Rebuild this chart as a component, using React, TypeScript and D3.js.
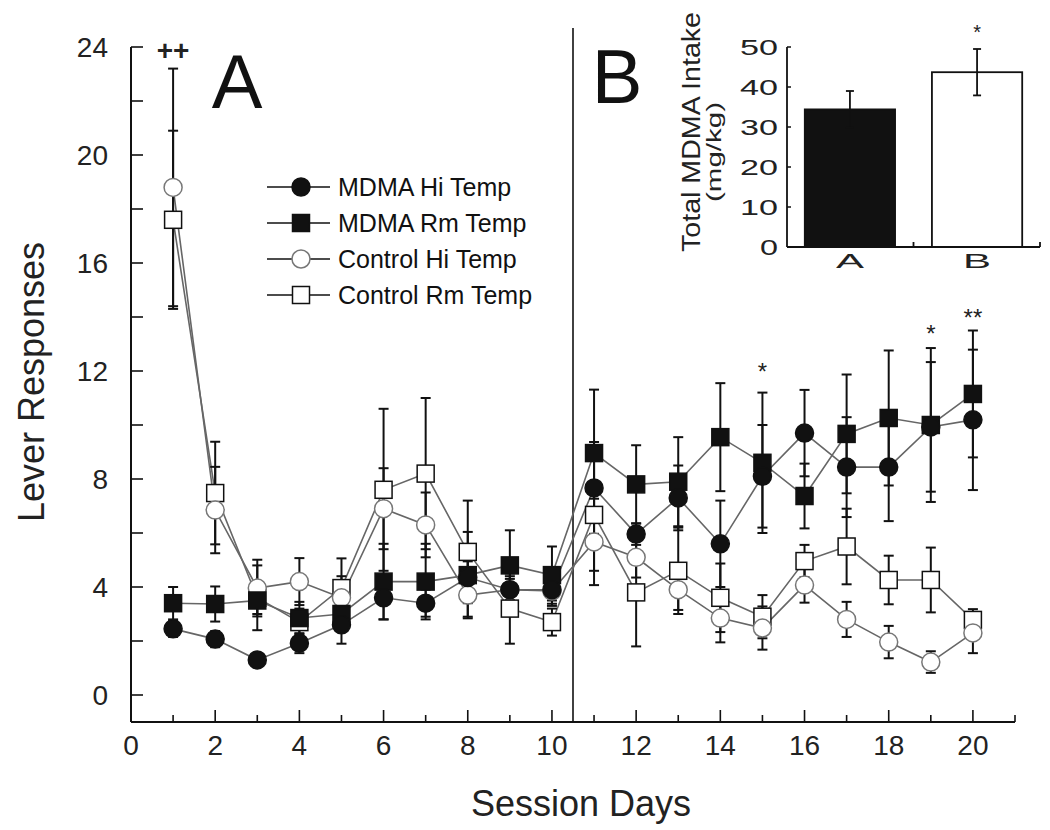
import React from 'react';
import * as d3 from 'd3';

// session days 1..20
const days = [1, 2, 3, 4, 5, 6, 7, 8, 9, 10, 11, 12, 13, 14, 15, 16, 17, 18, 19, 20];

const mdmaHi = [2.45, 2.07, 1.3, 1.92, 2.6, 3.6, 3.4, 4.35, 3.9, 3.9, 7.67, 5.96, 7.3, 5.6, 8.1, 9.7, 8.44, 8.44, 9.93, 10.19];
const mdmaHiErr = [0.3, 0.3, 0.25, 0.37, 0.7, 0.8, 0.5, 0.6, 0.4, 0.4, 1.7, 0.4, 1.2, 1.6, 1.9, 1.6, 1.85, 2.0, 2.4, 2.6];

const mdmaRm = [3.4, 3.37, 3.5, 2.85, 3.0, 4.2, 4.2, 4.44, 4.8, 4.44, 8.96, 7.8, 7.9, 9.55, 8.6, 7.37, 9.67, 10.26, 10.0, 11.15];
const mdmaRmErr = [0.6, 0.65, 0.5, 0.6, 0.6, 1.4, 1.4, 1.6, 1.3, 1.06, 2.35, 1.45, 1.65, 2.0, 2.6, 1.2, 2.2, 2.5, 2.85, 2.35];

const controlHi = [18.8, 6.85, 3.96, 4.2, 3.6, 6.9, 6.3, 3.7, 3.9, 3.85, 5.67, 5.1, 3.9, 2.85, 2.48, 4.07, 2.8, 1.96, 1.22, 2.3];
const controlHiErr = [4.4, 1.6, 1.05, 0.87, 0.8, 1.5, 1.2, 0.8, 0.5, 0.55, 1.6, 0.75, 0.75, 0.9, 0.8, 0.65, 0.65, 0.6, 0.4, 0.75];

const controlRm = [17.6, 7.48, 3.6, 2.7, 3.96, 7.6, 8.2, 5.3, 3.2, 2.7, 6.67, 3.8, 4.6, 3.6, 2.9, 4.96, 5.5, 4.26, 4.26, 2.78];
const controlRmErr = [3.3, 1.9, 1.2, 0.5, 1.1, 3.0, 2.8, 1.9, 1.3, 0.5, 2.07, 2.0, 1.6, 1.27, 0.8, 0.6, 1.4, 0.9, 1.2, 0.4];

const yTicks = [0, 4, 8, 12, 16, 20, 24];
const xTicks = [0, 2, 4, 6, 8, 10, 12, 14, 16, 18, 20];

// significance marks (day, label, height in response units)
const sigDays = [1, 15, 19, 20];
const sigLabels = ['++', '*', '*', '**'];
const sigLevels = [24, 12.3, 13.7, 14.3];

// inset: total intake
const groups = ['A', 'B'];
const intake = [34.4, 43.7];
const intakeErr = [4.6, 5.8];
const intakeTicks = [0, 10, 20, 30, 40, 50];

const FONT = 'Liberation Sans, Arial, sans-serif';

const series = [
  { name: 'MDMA Hi Temp', values: mdmaHi, err: mdmaHiErr, shape: 'circle', filled: true },
  { name: 'MDMA Rm Temp', values: mdmaRm, err: mdmaRmErr, shape: 'square', filled: true },
  { name: 'Control Hi Temp', values: controlHi, err: controlHiErr, shape: 'circle', filled: false },
  { name: 'Control Rm Temp', values: controlRm, err: controlRmErr, shape: 'square', filled: false },
];
// drawing order for markers: open first, filled on top
const drawOrder = [3, 2, 1, 0];

const Marker = ({ cx, cy, shape, filled }) => {
  if (shape === 'circle') {
    return (
      <circle cx={cx} cy={cy} r={9}
        fill={filled ? '#111' : '#fff'}
        stroke={filled ? '#111' : '#777'} strokeWidth={1.5} />
    );
  }
  return (
    <rect x={cx - 8.5} y={cy - 8.5} width={17} height={17}
      fill={filled ? '#111' : '#fff'} stroke="#111" strokeWidth={1.5} />
  );
};

const App = () => {
  const x = d3.scaleLinear().domain([0, 21]).range([131, 1015]);
  const y = d3.scaleLinear().domain([-1, 24]).range([722, 47]);

  const line = d3.line<number>()
    .x((d, i) => x(days[i]))
    .y(d => y(d));

  const xi = d3.scaleBand().domain(groups).range([787, 1040]).paddingInner(0.29).paddingOuter(0.14);
  const yi = d3.scaleLinear().domain([0, 50]).range([247, 47]);

  const minorX = d3.range(1, 22);
  const yTickAll = d3.range(0, 25, 2);

  return (
    <svg width={1050} height={830} style={{ position: 'absolute', left: 0, top: 0, background: '#fff' }}
      fontFamily={FONT}>
      {/* main axes */}
      <line x1={x(0)} x2={x(0)} y1={y(24)} y2={y(-1)} stroke="#111" strokeWidth={2} />
      <line x1={x(0)} x2={x(21)} y1={y(-1)} y2={y(-1)} stroke="#111" strokeWidth={2} />
      {yTickAll.map(t => (
        <line key={'yt' + t} x1={x(0)} x2={x(0) + 12} y1={y(t)} y2={y(t)} stroke="#111" strokeWidth={1.6} />
      ))}
      {yTicks.map(t => (
        <text key={'yl' + t} x={108} y={y(t)} dy="0.36em" textAnchor="end" fontSize={28} fill="#222">{t}</text>
      ))}
      {minorX.map(t => (
        <line key={'xt' + t} x1={x(t)} x2={x(t)} y1={y(-1)} y2={y(-1) - (t % 2 === 0 ? 12 : 7)}
          stroke="#111" strokeWidth={1.6} />
      ))}
      {xTicks.map(t => (
        <text key={'xl' + t} x={x(t)} y={755} textAnchor="middle" fontSize={28} fill="#222">{t}</text>
      ))}
      <text x={x(10.5) + 8} y={816} textAnchor="middle" fontSize={36} fill="#222">Session Days</text>
      <text transform={`translate(44,382) rotate(-90)`} textAnchor="middle" fontSize={36} fill="#222">Lever Responses</text>

      {/* phase divider */}
      <line x1={x(10.5)} x2={x(10.5)} y1={28} y2={y(-1)} stroke="#111" strokeWidth={1.6} />
      <text x={237} y={108} textAnchor="middle" fontSize={76} fill="#111">A</text>
      <text x={617} y={103} textAnchor="middle" fontSize={76} fill="#111">B</text>

      {/* connecting lines */}
      {series.map(s => (
        <path key={'ln' + s.name} d={line(s.values) || ''} fill="none" stroke="#666" strokeWidth={1.6} />
      ))}

      {/* error bars */}
      {series.map(s => s.values.map((v, i) => {
        const cx = x(days[i]);
        const top = y(v + s.err[i]);
        const bot = y(v - s.err[i]);
        return (
          <g key={'eb' + s.name + i} stroke="#111" strokeWidth={2}>
            <line x1={cx} x2={cx} y1={top} y2={bot} />
            <line x1={cx - 5} x2={cx + 5} y1={top} y2={top} />
            <line x1={cx - 5} x2={cx + 5} y1={bot} y2={bot} />
          </g>
        );
      }))}

      {/* markers */}
      {drawOrder.map(k => {
        const s = series[k];
        return s.values.map((v, i) => (
          <Marker key={'mk' + s.name + i} cx={x(days[i])} cy={y(v)} shape={s.shape} filled={s.filled} />
        ));
      })}

      {/* significance */}
      {sigDays.map((d, i) => (
        <text key={'sg' + i} x={x(d)} y={y(sigLevels[i])} dy={i === 0 ? '0.45em' : '0.7em'} textAnchor="middle"
          fontSize={i === 0 ? 28 : 24} fontWeight={i === 0 ? 'bold' : 'normal'} fill="#222">{sigLabels[i]}</text>
      ))}

      {/* legend */}
      {series.map((s, i) => {
        const cy = 187 + i * 36;
        return (
          <g key={'lg' + s.name}>
            <line x1={267} x2={330} y1={cy} y2={cy} stroke="#111" strokeWidth={1.6} />
            <Marker cx={301} cy={cy} shape={s.shape} filled={s.filled} />
            <text x={338} y={cy + 9} fontSize={25} fill="#111">{s.name}</text>
          </g>
        );
      })}

      {/* inset bar chart */}
      {groups.map((g, i) => (
        <rect key={'bar' + g} x={xi(g)} y={yi(intake[i])} width={xi.bandwidth()} height={yi(0) - yi(intake[i])}
          fill={i === 0 ? '#111' : '#fff'} stroke="#111" strokeWidth={1.8} />
      ))}
      {groups.map((g, i) => {
        const cx = (xi(g) || 0) + xi.bandwidth() / 2;
        const top = yi(intake[i] + intakeErr[i]);
        const bot = yi(intake[i] - intakeErr[i]);
        return (
          <g key={'ieb' + g} stroke="#111" strokeWidth={1.8}>
            <line x1={cx} x2={cx} y1={top} y2={bot} />
            <line x1={cx - 4} x2={cx + 4} y1={top} y2={top} />
            <line x1={cx - 4} x2={cx + 4} y1={bot} y2={bot} />
          </g>
        );
      })}
      <line x1={787} x2={787} y1={yi(50)} y2={yi(0)} stroke="#111" strokeWidth={1.8} />
      <line x1={787} x2={1040} y1={yi(0)} y2={yi(0)} stroke="#111" strokeWidth={1.8} />
      <line x1={1040} x2={1040} y1={yi(0)} y2={yi(0) - 5} stroke="#111" strokeWidth={1.8} />
      <line x1={(xi('B') || 0) - xi.step() * 0.145} x2={(xi('B') || 0) - xi.step() * 0.145}
        y1={yi(0)} y2={yi(0) - 5} stroke="#111" strokeWidth={1.8} />
      {intakeTicks.map(t => (
        <g key={'it' + t}>
          <line x1={787} x2={791} y1={yi(t)} y2={yi(t)} stroke="#111" strokeWidth={1.5} />
          <text x={778} y={yi(t)} dy="0.36em" textAnchor="end" fontSize={22} fill="#222"
            textLength={t === 0 ? 18 : 38} lengthAdjust="spacingAndGlyphs">{t}</text>
        </g>
      ))}
      {groups.map(g => (
        <text key={'gl' + g} x={(xi(g) || 0) + xi.bandwidth() / 2} y={268} textAnchor="middle" fontSize={21}
          fill="#222" textLength={28} lengthAdjust="spacingAndGlyphs">{g}</text>
      ))}
      <text x={(xi('B') || 0) + xi.bandwidth() / 2} y={yi(intake[1] + intakeErr[1]) - 10} textAnchor="middle"
        fontSize={20} fill="#222">*</text>
      <text transform="translate(700,132) rotate(-90)" textAnchor="middle" fontSize={25} fill="#222"
        textLength={240} lengthAdjust="spacingAndGlyphs">Total MDMA Intake</text>
      <text transform="translate(721,152) rotate(-90)" textAnchor="middle" fontSize={21} fill="#222"
        textLength={100} lengthAdjust="spacingAndGlyphs">(mg/kg)</text>
    </svg>
  );
};

export default App;
